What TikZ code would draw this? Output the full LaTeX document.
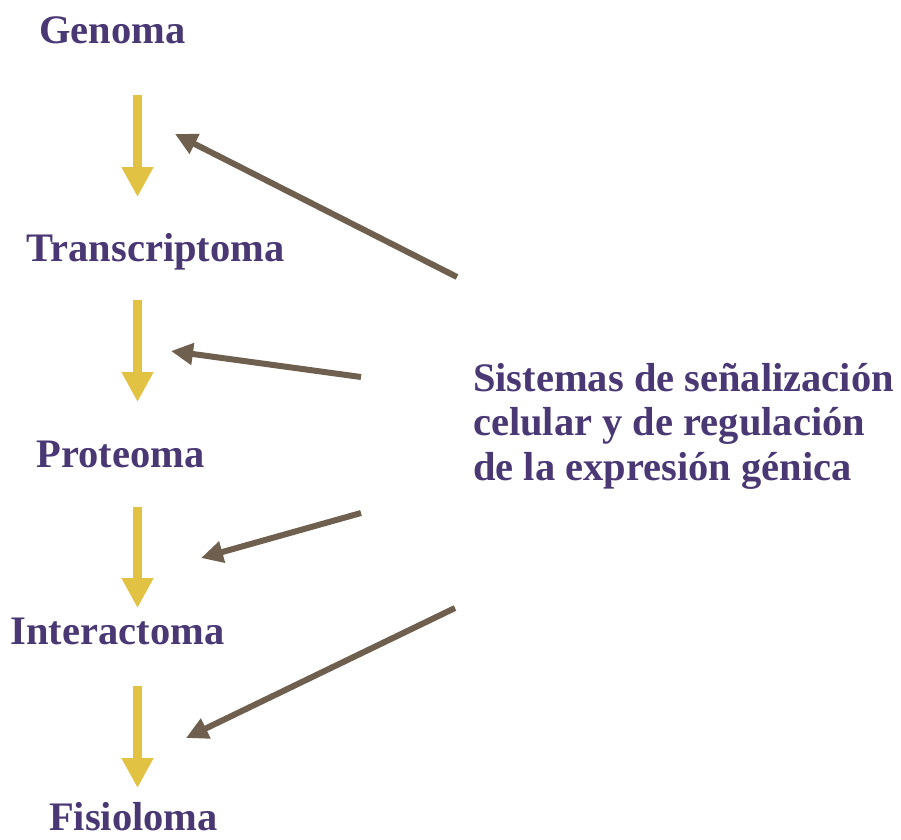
\documentclass[tikz,border=0pt]{standalone}
\usepackage{fontspec}
\setmainfont{Liberation Serif}
\usetikzlibrary{arrows.meta}
\definecolor{txtpurple}{RGB}{74,56,116}
\definecolor{arrowyellow}{RGB}{226,194,66}
\definecolor{arrowbrown}{RGB}{110,95,78}
\tikzset{
  omelabel/.style={inner sep=0pt, anchor=base, text=txtpurple, font=\fontsize{40.5}{44}\selectfont\bfseries},
  siglabel/.style={inner sep=0pt, anchor=base west, text=txtpurple, font=\fontsize{40.5}{44}\selectfont\bfseries},
  flowarrow/.style={draw=arrowyellow, line width=9pt, -{Triangle[length=30pt,width=30pt]}, arrowyellow},
  regarrow/.style={draw=arrowbrown, line width=6pt, -{Triangle[length=22pt,width=21pt]}, arrowbrown}
}
\begin{document}
\begin{tikzpicture}[x=1pt,y=-1pt]
\useasboundingbox (0,0) rectangle (901,839);
% labels
\node[omelabel] (gen) at (112.5,43) {Genoma};
\node[omelabel] (tra) at (155.5,261) {Transcriptoma};
\node[omelabel] (pro) at (120.5,467) {Proteoma};
\node[omelabel] (int) at (117.5,644) {Interactoma};
\node[omelabel] (fis) at (133.5,830) {Fisioloma};
\node[siglabel] (sig1) at (473,391) {Sistemas de señalización};
\node[siglabel] (sig2) at (473,435) {celular y de regulación};
\node[siglabel] (sig3) at (473,480) {de la expresión génica};
% yellow arrow end points
\coordinate (y1s) at (137.5,95);  \coordinate (y1e) at (137.5,197);
\coordinate (y2s) at (137.5,300); \coordinate (y2e) at (137.5,402);
\coordinate (y3s) at (137.5,507); \coordinate (y3e) at (137.5,608);
\coordinate (y4s) at (137.5,686); \coordinate (y4e) at (137.5,788);
\draw[flowarrow] (y1s) -- (y1e);
\draw[flowarrow] (y2s) -- (y2e);
\draw[flowarrow] (y3s) -- (y3e);
\draw[flowarrow] (y4s) -- (y4e);
% brown arrow end points
\coordinate (b1s) at (457,277); \coordinate (b1e) at (175,134);
\coordinate (b2s) at (361,377); \coordinate (b2e) at (171,351);
\coordinate (b3s) at (361,513); \coordinate (b3e) at (201,558);
\coordinate (b4s) at (455,608); \coordinate (b4e) at (186,738);
\draw[regarrow] (b1s) -- (b1e);
\draw[regarrow] (b2s) -- (b2e);
\draw[regarrow] (b3s) -- (b3e);
\draw[regarrow] (b4s) -- (b4e);
\end{tikzpicture}
\end{document}
